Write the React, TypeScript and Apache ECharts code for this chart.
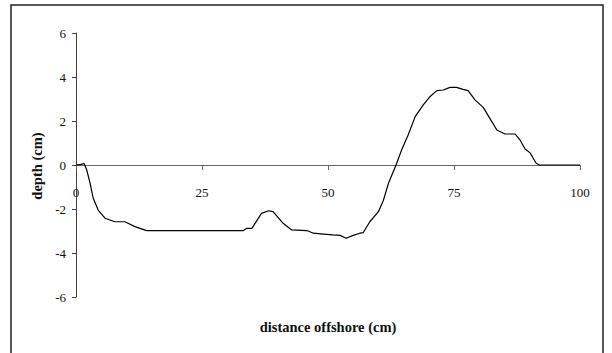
import React, { useEffect, useRef } from "react";
import * as echarts from "echarts";

const distance = [
  0, 1.0, 1.6, 2.1, 2.8, 3.4, 4.4, 5.75, 7.7, 9.7, 11.7, 14, 20, 25, 30, 33.2, 33.9, 34.9, 36.8,
  38.2, 39.1, 41.1, 42.8, 45.8, 47.1, 49.1, 51, 52.4, 53.6, 55, 56.3, 57, 58.3, 60, 61, 62, 63.5,
  64.6, 65.9, 67.3, 68.9, 70.2, 71.6, 72.9, 74.2, 75.5, 76.8, 77.8, 79.2, 80.8, 82.5, 83.5, 85.1,
  87.1, 88.1, 89.1, 90.1, 91.3, 92, 95, 100,
];
const depth = [
  0, 0.03, 0.07, -0.2, -0.83, -1.5, -2.05, -2.42, -2.58, -2.58, -2.8, -2.98, -2.98, -2.98, -2.98,
  -2.98, -2.88, -2.88, -2.2, -2.08, -2.12, -2.65, -2.95, -2.98, -3.1, -3.14, -3.18, -3.2, -3.33,
  -3.2, -3.1, -3.07, -2.58, -2.12, -1.6, -0.83, 0, 0.68, 1.36, 2.2, 2.73, 3.1, 3.38, 3.41, 3.53,
  3.53, 3.44, 3.38, 2.95, 2.62, 1.97, 1.59, 1.41, 1.41, 1.14, 0.73, 0.55, 0.08, 0, 0, 0,
];
const xTicks = [0, 25, 50, 75, 100];
const yTicks = [-6, -4, -2, 0, 2, 4, 6];
const xTitle = "distance offshore (cm)";
const yTitle = "depth (cm)";

const FONT = "'Liberation Serif', 'Times New Roman', serif";

export default function App() {
  const ref = useRef<HTMLDivElement>(null);
  useEffect(() => {
    if (!ref.current) return;
    const chart = echarts.init(ref.current, undefined, { renderer: "svg" });
    const data = distance.map((d, i) => [d, depth[i]]);
    const gridTop = 33;
    const gridBottom = 56;
    const plotH = 353 - gridTop - gridBottom;
    const yMin = yTicks[0];
    const yMax = yTicks[yTicks.length - 1];
    // shift the x axis up so it sits on depth 0
    const zeroOffset = -((0 - yMin) / (yMax - yMin)) * plotH;
    chart.setOption({
      animation: false,
      backgroundColor: "#ffffff",
      grid: { left: 76, right: 32, top: gridTop, bottom: gridBottom, containLabel: false },
      xAxis: {
        type: "value",
        min: xTicks[0],
        max: xTicks[xTicks.length - 1],
        interval: 25,
        offset: zeroOffset,
        axisLine: { onZero: false, lineStyle: { color: "#666", width: 1 } },
        axisTick: { show: true, inside: false, length: 5, lineStyle: { color: "#666" } },
        axisLabel: { margin: 21, color: "#111", fontFamily: FONT, fontSize: 13 },
        splitLine: { show: false },
      },
      yAxis: {
        type: "value",
        min: yMin,
        max: yMax,
        interval: 2,
        axisLine: { show: true, onZero: false, lineStyle: { color: "#444", width: 1 } },
        axisTick: { show: true, inside: false, length: 4, lineStyle: { color: "#444" } },
        axisLabel: { margin: 10, color: "#111", fontFamily: FONT, fontSize: 13 },
        splitLine: { show: false },
      },
      series: [
        {
          type: "line",
          data,
          showSymbol: false,
          symbol: "none",
          lineStyle: { color: "#000", width: 1.2 },
        },
      ],
      graphic: [
        {
          type: "rect",
          shape: { x: 11, y: 5, width: 592, height: 360 },
          style: { fill: "none", stroke: "#222", lineWidth: 1.5 },
          silent: true,
        },
        {
          type: "text",
          x: 328,
          y: 327,
          style: {
            text: xTitle,
            fontFamily: FONT,
            fontWeight: "bold",
            fontSize: 14.5,
            fill: "#111",
            align: "center",
            verticalAlign: "middle",
          },
        },
        {
          type: "text",
          x: 37,
          y: 166,
          rotation: Math.PI / 2,
          style: {
            text: yTitle,
            fontFamily: FONT,
            fontWeight: "bold",
            fontSize: 14.5,
            fill: "#111",
            align: "center",
            verticalAlign: "middle",
          },
        },
      ],
    });
    return () => chart.dispose();
  }, []);
  return (
    <div
      ref={ref}
      style={{ position: "fixed", left: 0, top: 0, width: 612, height: 353 }}
    />
  );
}
